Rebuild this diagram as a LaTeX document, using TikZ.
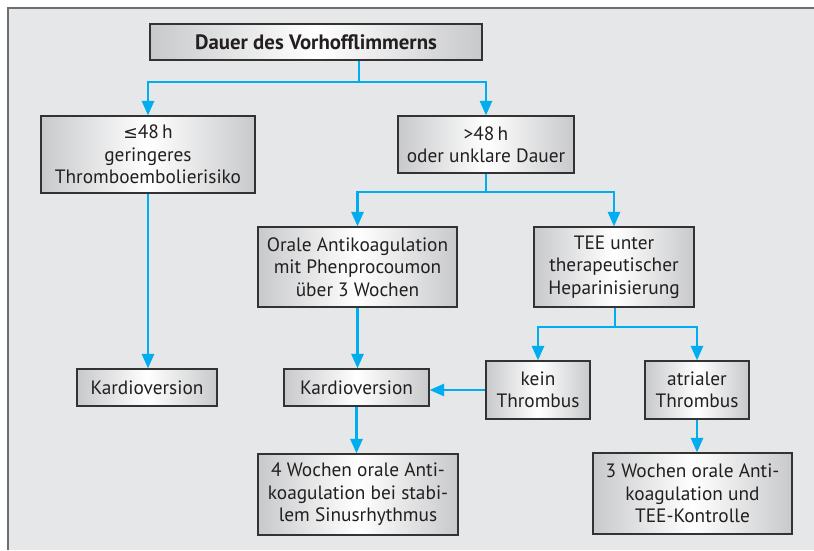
\documentclass[tikz,border=0pt]{standalone}
\usepackage{fontspec}
\setmainfont{PT Sans}
\newfontfamily\symf{DejaVu Sans}
\usetikzlibrary{arrows.meta,calc}
\definecolor{bgc}{HTML}{E6E7E8}
\definecolor{framec}{HTML}{6D6E70}
\definecolor{arrc}{HTML}{00AEEF}
\definecolor{txtc}{HTML}{231F20}
\definecolor{boxg}{HTML}{C8C9CB}
\tikzset{
  fbox/.style={draw=black!80, line width=0.8pt, left color=boxg, right color=boxg, middle color=white,
    align=center, inner sep=0pt, text=txtc, font=\fontsize{14.5}{16.8}\selectfont},
  arr/.style={draw=arrc, line width=2.2pt, -{Triangle[width=9pt,length=11pt]}},
  ln/.style={draw=arrc, line width=2.2pt}
}
\begin{document}
\begin{tikzpicture}[x=0.75pt,y=-0.75pt]
\useasboundingbox (0,0) rectangle (814,550);
\fill[white] (0,0) rectangle (814,550);
\fill[bgc] (8,8) rectangle (814,550);
\draw[framec, line width=1.6pt] (8,550) -- (8,8) -- (814,8);

\node[fbox, minimum width=249pt, minimum height=27pt, font=\fontsize{15.6}{17}\selectfont\bfseries] (top) at (316,42) {Dauer des Vorhofflimmerns};
\node[fbox, minimum width=160.5pt, minimum height=57.75pt] (L1) at (148,154.5) {{\symf\fontsize{13}{16.5}\selectfont ≤}48\,h\\geringeres\\Thromboembolierisiko};
\node[fbox, minimum width=132pt, minimum height=42.75pt] (R1) at (486,144.5) {>48\,h\\oder unklare Dauer};
\node[fbox, minimum width=149.25pt, minimum height=60pt] (A) at (357.5,267) {Orale Antikoagulation\\mit Phenprocoumon\\über 3 Wochen};
\node[fbox, minimum width=120pt, minimum height=60pt] (B) at (614,267) {TEE unter\\therapeutischer\\Heparinisierung};
\node[fbox, minimum width=105pt, minimum height=27.75pt] (K1) at (147,387.5) {Kardioversion};
\node[fbox, minimum width=108.75pt, minimum height=27.75pt] (K2) at (356.5,387.5) {Kardioversion};
\node[fbox, minimum width=78pt, minimum height=43.5pt] (kein) at (538,390) {kein\\Thrombus};
\node[fbox, minimum width=78pt, minimum height=43.5pt] (atr) at (697,390) {atrialer\\Thrombus};
\node[fbox, minimum width=150pt, minimum height=60.75pt] (W4) at (358,494.5) {4 Wochen orale Anti-\\koagulation bei stabi-\\lem Sinusrhythmus};
\node[fbox, minimum width=149.25pt, minimum height=60.75pt] (W3) at (692.5,493.5) {3 Wochen orale Anti-\\koagulation und\\TEE-Kontrolle};

\coordinate (j1) at (359,82);
\coordinate (j2) at (486,192);
\coordinate (j3) at (615,327);

\draw[ln] (top.south -| j1) -- (j1);
\draw[arr] (j1) -| (L1.north);
\draw[arr] (j1) -| (R1.north);
\draw[ln] (R1.south) -- (j2);
\draw[arr] (j2) -| (A.north);
\draw[arr] (j2) -| (B.north);
\draw[arr] (L1.south) -- (L1.south |- K1.north);
\draw[arr] (A.south) -- (A.south |- K2.north);
\draw[ln] (B.south -| j3) -- (j3);
\draw[arr] (j3) -| (kein.north);
\draw[arr] (j3) -| (atr.north);
\draw[arr] (kein.west) -- (kein.west -| K2.east);
\draw[arr] (K2.south) -- (K2.south |- W4.north);
\draw[arr] (atr.south) -- (atr.south |- W3.north);
\end{tikzpicture}
\end{document}
